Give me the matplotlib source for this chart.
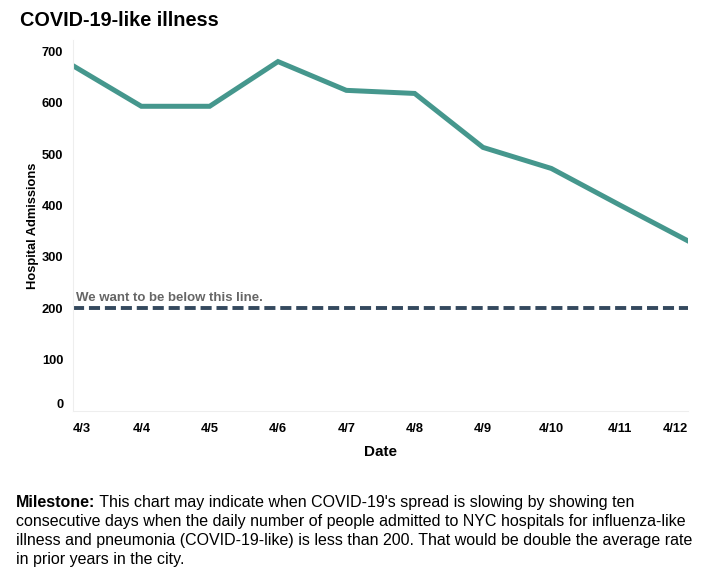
#!/usr/bin/env python
import matplotlib
matplotlib.use('Agg')
import matplotlib.pyplot as plt
from matplotlib.transforms import ScaledTranslation

dates = ['4/3', '4/4', '4/5', '4/6', '4/7', '4/8', '4/9', '4/10', '4/11', '4/12']
admissions = [672, 593, 593, 680, 624, 618, 513, 472, 401, 331]
yticks = [0, 100, 200, 300, 400, 500, 600, 700]
target = 200

note_lines = [
    "This chart may indicate when COVID-19's spread is slowing by showing ten",
    "consecutive days when the daily number of people admitted to NYC hospitals for influenza-like",
    "illness and pneumonia (COVID-19-like) is less than 200. That would be double the average rate",
    "in prior years in the city.",
]


def main():
    plt.rcParams['font.family'] = ['Liberation Sans', 'DejaVu Sans']
    fig = plt.figure(figsize=(7.04, 5.77), dpi=100)
    ax = fig.add_axes([73 / 704, 1 - 411 / 577, (688 - 73) / 704, (411 - 40) / 577])

    x = list(range(len(dates)))
    ax.plot(x, admissions, color='#45978d', lw=3.6, solid_joinstyle='miter')
    ax.axhline(target, color='#34495e', lw=2.8, ls=(0, (2.85, 1.25)))
    ax.text(0.05, target + 8, 'We want to be below this line.', color='#666666',
            fontsize=9.5, fontweight='bold', va='bottom')

    ax.set_xlim(0, len(dates) - 1)
    ax.set_ylim(0, 722)
    ax.set_yticks(yticks)
    ax.set_yticklabels([str(v) for v in yticks], fontsize=9.3, fontweight='bold')
    ax.set_xticks(x)
    ax.set_xticklabels(dates, fontsize=9.3, fontweight='bold')
    ax.tick_params(length=0)
    ax.tick_params(axis='y', pad=7)
    ax.tick_params(axis='x', pad=9)
    labels = ax.get_xticklabels()
    labels[0].set_ha('left')
    labels[-1].set_ha('right')
    zero = ax.get_yticklabels()[0]
    zero.set_transform(zero.get_transform() + ScaledTranslation(0, 7 / 100, fig.dpi_scale_trans))
    for s in ['top', 'right']:
        ax.spines[s].set_visible(False)
    for s in ['left', 'bottom']:
        ax.spines[s].set_color('#eeeeee')

    ax.set_ylabel('Hospital Admissions', fontsize=9.3, fontweight='bold', labelpad=2)
    ax.set_xlabel('Date', fontsize=11, fontweight='bold', labelpad=7)

    fig.text(20 / 704, 1 - 20 / 577, 'COVID-19-like illness', fontsize=14.3,
             fontweight='bold', va='center', ha='left')

    y0 = 1 - 507 / 577
    lead = fig.text(16 / 704, y0, 'Milestone:', fontsize=11.5, fontweight='bold', va='baseline')
    fig.text(lead.get_window_extent(fig.canvas.get_renderer()).x1 / 704, y0,
             ' ' + note_lines[0], fontsize=11.5, va='baseline')
    for i, line in enumerate(note_lines[1:], start=1):
        fig.text(16 / 704, y0 - i * 19 / 577, line, fontsize=11.5, va='baseline')

    fig.savefig('out.png', dpi=100)


if __name__ == '__main__':
    main()
